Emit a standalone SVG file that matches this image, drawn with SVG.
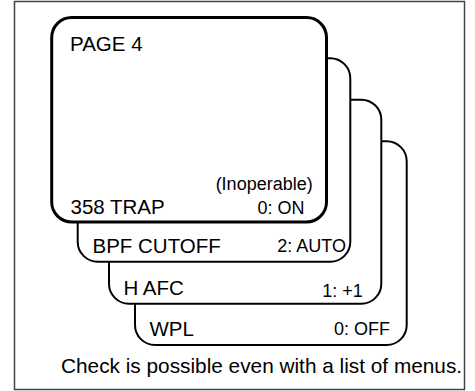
<svg xmlns="http://www.w3.org/2000/svg" width="475" height="391" viewBox="0 0 475 391">
<style>
.card{fill:#fff;stroke:#000;stroke-width:2}
.front{stroke-width:3}
.lbl{font-family:"Liberation Sans",Arial,sans-serif;font-size:20.5px;fill:#000}
.val{font-family:"Liberation Sans",Arial,sans-serif;font-size:18px;fill:#000;text-anchor:end}
</style>
<rect x="14.5" y="1.5" width="450" height="388" fill="#fff" stroke="#444" stroke-width="1.5"/>
<g id="card-wpl">
<rect class="card" x="135" y="141.3" width="271.7" height="203.7" rx="20"/>
<text class="lbl" x="149.5" y="336">WPL</text>
<text class="val" x="390" y="335">0: OFF</text>
</g>
<g id="card-hafc">
<rect class="card" x="109" y="99.7" width="272.3" height="204" rx="20"/>
<text class="lbl" x="123.5" y="294.5">H AFC</text>
<text class="val" x="362.7" y="296.5">1: +1</text>
</g>
<g id="card-bpf">
<rect class="card" x="77.7" y="58.3" width="272.6" height="203.4" rx="20"/>
<text class="lbl" x="92.5" y="253.3">BPF CUTOFF</text>
<text class="val" x="346" y="251.7">2: AUTO</text>
</g>
<g id="card-page4">
<rect class="card front" x="51.7" y="17.5" width="274.8" height="204.5" rx="20"/>
<text class="lbl" x="70" y="50.7">PAGE 4</text>
<text class="val" x="312.7" y="190">(Inoperable)</text>
<text class="lbl" x="70.5" y="213.5">358 TRAP</text>
<text class="val" x="304.5" y="214">0: ON</text>
</g>
<g id="connectors"></g>
<text class="lbl" x="61" y="373.3" style="font-size:20.8px">Check is possible even with a list of menus.</text>
</svg>
